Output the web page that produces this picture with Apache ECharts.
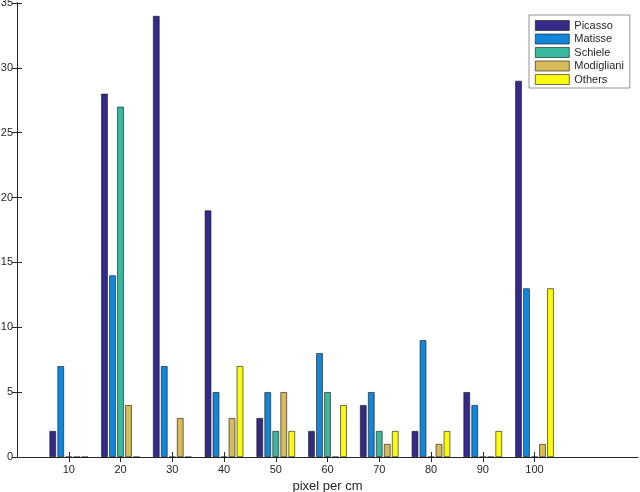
<!DOCTYPE html>
<html>
<head>
<meta charset="utf-8">
<script src="https://cdn.jsdelivr.net/npm/echarts@6/dist/echarts.min.js"></script>
<style>html,body{margin:0;padding:0;background:#fff;}#chart{width:640px;height:492px;}</style>
</head>
<body>
<div id="chart"></div>
<script>
const categories = [10, 20, 30, 40, 50, 60, 70, 80, 90, 100];
const seriesNames = ['Picasso', 'Matisse', 'Schiele', 'Modigliani', 'Others'];
const picasso    = [2, 28, 34, 19, 3, 2, 4, 2, 5, 29];
const matisse    = [7, 14, 7, 5, 5, 8, 5, 9, 4, 13];
const schiele    = [0, 27, 0, 0, 2, 5, 2, 0, 0, 0];
const modigliani = [0, 4, 3, 3, 5, 0, 1, 1, 0, 1];
const others     = [0, 0, 0, 7, 2, 4, 2, 2, 2, 13];
const colors = ['#352a87', '#1386d9', '#38b99e', '#d7bb5a', '#f9fb0e'];
const yTicks = [0, 5, 10, 15, 20, 25, 30, 35];

const allValues = [picasso, matisse, schiele, modigliani, others];
const font = 'Liberation Sans, Arial, sans-serif';
const textColor = '#262626';

const chart = echarts.init(document.getElementById('chart'), null, {renderer: 'canvas'});
const series = seriesNames.map((name, i) => ({
  name: name,
  type: 'bar',
  data: categories.map((c, j) => [c, allValues[i][j]]),
  barWidth: 6.5,
  barGap: '23%',
  itemStyle: {color: colors[i], borderColor: '#111', borderWidth: 0.6},
  emphasis: {disabled: true},
  animation: false
}));

chart.setOption({
  animation: false,
  color: colors,
  grid: {left: 17, right: 2, top: 3, bottom: 35, containLabel: false, outerBoundsMode: 'none'},
  legend: {
    orient: 'vertical',
    left: 529, top: 15,
    width: 100,
    padding: [5, 6, 3, 6],
    itemWidth: 34, itemHeight: 10, itemGap: 2.5,
    backgroundColor: '#fff',
    borderColor: '#777', borderWidth: 0.8,
    textStyle: {fontFamily: font, fontSize: 11, color: textColor},
    data: seriesNames.map((n, i) => ({name: n, icon: 'rect', itemStyle: {color: colors[i], borderColor: '#111', borderWidth: 0.6}}))
  },
  xAxis: [{
    type: 'value', min: 0, max: 120, interval: 10,
    name: 'pixel per cm', nameLocation: 'middle', nameGap: 17,
    nameTextStyle: {fontFamily: font, fontSize: 13, color: textColor},
    axisLine: {show: true, lineStyle: {color: '#262626', width: 1}},
    axisTick: {show: true, inside: true, length: 5, customValues: categories, lineStyle: {color: '#262626'}},
    axisLabel: {show: true, customValues: categories, fontFamily: font, fontSize: 11, color: textColor, margin: 7},
    splitLine: {show: false}
  }, {
    type: 'value', min: 0, max: 120, interval: 10, position: 'top',
    axisLine: {show: false},
    axisTick: {show: true, inside: true, length: 5, customValues: categories, lineStyle: {color: '#262626'}},
    axisLabel: {show: false},
    splitLine: {show: false}
  }],
  yAxis: [{
    type: 'value', min: 0, max: 35, interval: 5,
    axisLine: {show: true, lineStyle: {color: '#262626', width: 1}},
    axisTick: {show: true, inside: true, length: 5, customValues: yTicks, lineStyle: {color: '#262626'}},
    axisLabel: {fontFamily: font, fontSize: 11, color: textColor, margin: 4},
    splitLine: {show: false}
  }, {
    type: 'value', min: 0, max: 35, interval: 5, position: 'right',
    axisLine: {show: true, lineStyle: {color: '#262626', width: 1}},
    axisTick: {show: true, inside: true, length: 5, lineStyle: {color: '#262626'}},
    axisLabel: {show: false},
    splitLine: {show: false}
  }],
  series: series
});
</script>
</body>
</html>
